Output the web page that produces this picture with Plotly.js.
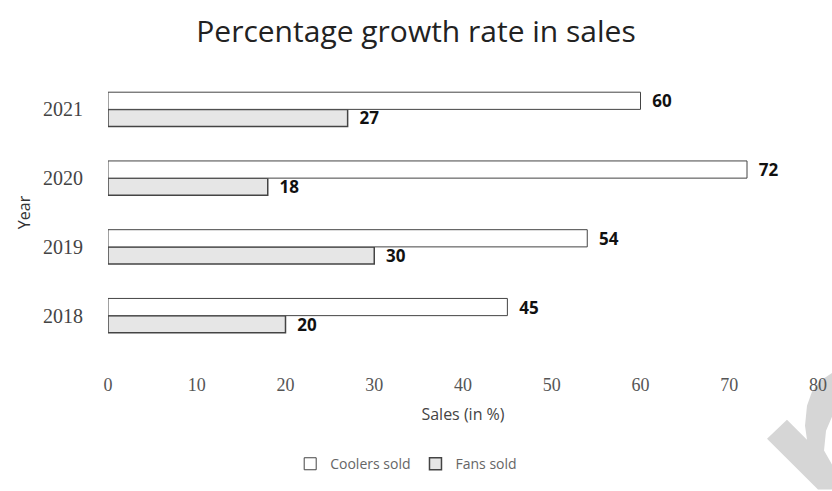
<!DOCTYPE html>
<html>
<head>
<meta charset="utf-8">
<script src="https://cdn.plot.ly/plotly-3.0.1.min.js"></script>
<style>html,body{margin:0;padding:0;background:#fff;}#chart{width:832px;height:491px;}</style>
</head>
<body>
<div id="chart"></div>
<script>
const years = ["2018", "2019", "2020", "2021"];
const coolersSold = [45, 54, 72, 60];
const fansSold = [20, 30, 18, 27];
const xTicks = [0, 10, 20, 30, 40, 50, 60, 70, 80];

const labelFont = {family: "Open Sans, sans-serif", size: 17, color: "#111"};

const fans = {
  type: "bar", orientation: "h", name: "Fans sold",
  y: years, x: fansSold,
  text: fansSold.map(v => "<b>" + v + "</b>"),
  texttemplate: "  %{text}",
  textposition: "outside", cliponaxis: false, constraintext: "none",
  textfont: labelFont,
  marker: {color: "#e6e6e6", line: {color: "#444", width: 1.5}}
};
const coolers = {
  type: "bar", orientation: "h", name: "Coolers sold",
  y: years, x: coolersSold,
  text: coolersSold.map(v => "<b>" + v + "</b>"),
  texttemplate: "  %{text}",
  textposition: "outside", cliponaxis: false, constraintext: "none",
  textfont: labelFont,
  marker: {color: "#ffffff", line: {color: "#444", width: 1}}
};

// decorative watermark in bottom-right corner (not data)
const M = {l: 108, r: 14, t: 75, b: 140}, W = 832, H = 491;
function pp(X, Y) {
  const pw = W - M.l - M.r, ph = H - M.t - M.b;
  return ((X - M.l) / pw).toFixed(4) + "," + ((H - M.b - Y) / ph).toFixed(4);
}
const wm = [[767,440],[787,421],[807,441],[805,427],[807,407],[812,393],[820,382],[832,374],
            [832,418],[826,432],[824,452],[832,466],[832,491],[818,491]];
const wmPath = "M" + wm.map(p => pp(p[0], p[1])).join(" L") + " Z";

const layout = {
  width: W, height: H,
  paper_bgcolor: "#fff", plot_bgcolor: "#fff",
  margin: M,
  title: {text: "Percentage growth rate in sales", x: 0.5, xanchor: "center", y: 0.935, yanchor: "middle",
          font: {family: "Open Sans, sans-serif", size: 30, color: "#222"}},
  barmode: "group", bargap: 0.5, bargroupgap: 0,
  xaxis: {range: [0, 80], tickvals: xTicks, showgrid: false, zeroline: false, showline: false,
          ticks: "", ticklabelstandoff: 22,
          tickfont: {family: "Liberation Serif, serif", size: 18, color: "#555"},
          title: {text: "Sales (in %)", font: {family: "Open Sans, sans-serif", size: 16, color: "#444"}, standoff: 14}},
  yaxis: {showgrid: false, zeroline: false, showline: false, ticks: "", ticklabelstandoff: 24,
          tickfont: {family: "Liberation Serif, serif", size: 20, color: "#444"},
          title: {text: "Year", font: {family: "Open Sans, sans-serif", size: 16, color: "#333"}, standoff: 8}},
  showlegend: true,
  legend: {orientation: "h", x: 0.42, xanchor: "center", y: -0.41, yanchor: "middle",
           traceorder: "reversed", font: {family: "Open Sans, sans-serif", size: 14, color: "#666"}},
  shapes: [{type: "path", xref: "paper", yref: "paper", path: wmPath, fillcolor: "#d6d6d6",
            line: {width: 0}, layer: "below"}]
};

Plotly.newPlot("chart", [fans, coolers], layout, {displayModeBar: false, staticPlot: true});
</script>
</body>
</html>
